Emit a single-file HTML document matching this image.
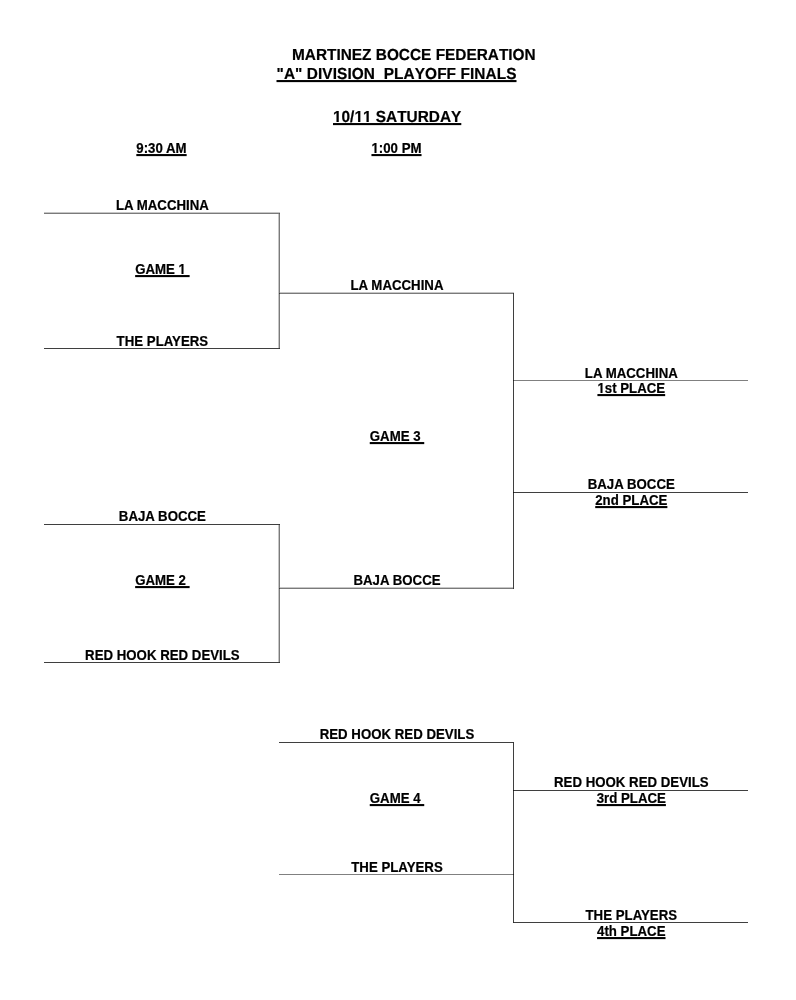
<!DOCTYPE html>
<html><head><meta charset="utf-8"><title>Martinez Bocce Federation - A Division Playoff Finals</title>
<style>
html,body{margin:0;padding:0;background:#fff;}
body{width:796px;height:1000px;position:relative;overflow:hidden;font-family:"Liberation Sans",sans-serif;font-weight:bold;color:#000;}
#pg{position:absolute;left:0;top:0;width:796px;height:1000px;will-change:transform;}
.t{position:absolute;white-space:pre;line-height:20px;-webkit-text-stroke:0.2px #000;transform:scaleY(1.04);transform-origin:0 14px;}
.c{width:300px;text-align:center;}
.s{font-size:13.25px;}
.b{font-size:15.4px;font-kerning:none;text-rendering:geometricPrecision;}
.u{text-decoration:underline;text-decoration-thickness:2px;text-underline-offset:1px;}
.l{position:absolute;}

</style></head><body>
<div id="pg">

<div class="t b" style="left:292px;top:46px"><span>MARTINEZ BOCCE FEDERATION</span></div>
<div class="t b" style="left:276.5px;top:65px;letter-spacing:0.08px"><span class="u">"A" DIVISION&nbsp; PLAYOFF FINALS</span></div>
<div class="t b" style="left:333px;top:108px"><span class="u">10/11 SATURDAY</span></div>
<div class="t c s" style="left:11.5px;top:139px"><span class="u">9:30 AM</span></div>
<div class="t c s" style="left:246.5px;top:139px"><span class="u">1:00 PM</span></div>
<div class="t c s" style="left:12.4px;top:196px"><span>LA MACCHINA</span></div>
<div class="t c s" style="left:12.4px;top:260px"><span class="u">GAME 1&nbsp;</span></div>
<div class="t c s" style="left:12.4px;top:332px"><span>THE PLAYERS</span></div>
<div class="t c s" style="left:12.4px;top:507px"><span>BAJA BOCCE</span></div>
<div class="t c s" style="left:12.4px;top:571px"><span class="u">GAME 2&nbsp;</span></div>
<div class="t c s" style="left:12.4px;top:646px"><span>RED HOOK RED DEVILS</span></div>
<div class="t c s" style="left:247.0px;top:276px"><span>LA MACCHINA</span></div>
<div class="t c s" style="left:247.0px;top:427px"><span class="u">GAME 3&nbsp;</span></div>
<div class="t c s" style="left:247.0px;top:571px"><span>BAJA BOCCE</span></div>
<div class="t c s" style="left:247.0px;top:725px"><span>RED HOOK RED DEVILS</span></div>
<div class="t c s" style="left:247.0px;top:789px"><span class="u">GAME 4&nbsp;</span></div>
<div class="t c s" style="left:247.0px;top:858px"><span>THE PLAYERS</span></div>
<div class="t c s" style="left:481.3px;top:364px"><span>LA MACCHINA</span></div>
<div class="t c s" style="left:481.3px;top:379px"><span class="u">1st PLACE</span></div>
<div class="t c s" style="left:481.3px;top:475px"><span>BAJA BOCCE</span></div>
<div class="t c s" style="left:481.3px;top:491px"><span class="u">2nd PLACE</span></div>
<div class="t c s" style="left:481.3px;top:773px"><span>RED HOOK RED DEVILS</span></div>
<div class="t c s" style="left:481.3px;top:789px"><span class="u">3rd PLACE</span></div>
<div class="t c s" style="left:481.3px;top:906px"><span>THE PLAYERS</span></div>
<div class="t c s" style="left:481.3px;top:922px"><span class="u">4th PLACE</span></div>
<div class="l" style="left:44px;top:212px;width:236px;height:1px;background:#c6c6c6"></div>
<div class="l" style="left:279px;top:292px;width:235px;height:1px;background:#c6c6c6"></div>
<div class="l" style="left:279px;top:587px;width:235px;height:1px;background:#c6c6c6"></div>
<div class="l" style="left:278px;top:213px;width:1px;height:136px;background:#c6c6c6"></div>
<div class="l" style="left:278px;top:524px;width:1px;height:139px;background:#c6c6c6"></div>
<div class="l" style="left:44px;top:213px;width:236px;height:1px;background:#7a7a7a"></div>
<div class="l" style="left:44px;top:348px;width:236px;height:1px;background:#3f3f3f"></div>
<div class="l" style="left:44px;top:524px;width:236px;height:1px;background:#3f3f3f"></div>
<div class="l" style="left:44px;top:662px;width:236px;height:1px;background:#3f3f3f"></div>
<div class="l" style="left:279px;top:293px;width:235px;height:1px;background:#7a7a7a"></div>
<div class="l" style="left:279px;top:588px;width:235px;height:1px;background:#7a7a7a"></div>
<div class="l" style="left:279px;top:742px;width:235px;height:1px;background:#3f3f3f"></div>
<div class="l" style="left:279px;top:874px;width:235px;height:1px;background:#808080"></div>
<div class="l" style="left:513px;top:380px;width:235px;height:1px;background:#808080"></div>
<div class="l" style="left:513px;top:492px;width:235px;height:1px;background:#3f3f3f"></div>
<div class="l" style="left:513px;top:790px;width:235px;height:1px;background:#3f3f3f"></div>
<div class="l" style="left:513px;top:922px;width:235px;height:1px;background:#3f3f3f"></div>
<div class="l" style="left:279px;top:213px;width:1px;height:136px;background:#7a7a7a"></div>
<div class="l" style="left:279px;top:524px;width:1px;height:139px;background:#7a7a7a"></div>
<div class="l" style="left:513px;top:293px;width:1px;height:296px;background:#3f3f3f"></div>
<div class="l" style="left:513px;top:742px;width:1px;height:181px;background:#3f3f3f"></div>
<div class="l" style="left:279px;top:213px;width:1px;height:1px;background:#5a5a5a"></div>
<div class="l" style="left:279px;top:293px;width:1px;height:1px;background:#3a3a3a"></div>
<div class="l" style="left:279px;top:348px;width:1px;height:1px;background:#333333"></div>
<div class="l" style="left:279px;top:524px;width:1px;height:1px;background:#333333"></div>
<div class="l" style="left:279px;top:588px;width:1px;height:1px;background:#3a3a3a"></div>
<div class="l" style="left:279px;top:662px;width:1px;height:1px;background:#333333"></div>
<div class="l" style="left:513px;top:293px;width:1px;height:1px;background:#333333"></div>
<div class="l" style="left:513px;top:380px;width:1px;height:1px;background:#202020"></div>
<div class="l" style="left:513px;top:492px;width:1px;height:1px;background:#161616"></div>
<div class="l" style="left:513px;top:588px;width:1px;height:1px;background:#333333"></div>
<div class="l" style="left:513px;top:742px;width:1px;height:1px;background:#333333"></div>
<div class="l" style="left:513px;top:790px;width:1px;height:1px;background:#161616"></div>
<div class="l" style="left:513px;top:874px;width:1px;height:1px;background:#202020"></div>
<div class="l" style="left:513px;top:922px;width:1px;height:1px;background:#2a2a2a"></div>
<!--p1-->
<i style="position:absolute;left:333px;top:120px;width:1px;height:1px;background:#ffffff"></i>
<i style="position:absolute;left:334px;top:120px;width:1px;height:1px;background:#ffffff"></i>
<i style="position:absolute;left:335px;top:120px;width:1px;height:1px;background:#ffffff"></i>
<i style="position:absolute;left:336px;top:120px;width:1px;height:1px;background:#7a7a7a"></i>
<i style="position:absolute;left:338px;top:120px;width:1px;height:1px;background:#3f3f3f"></i>
<i style="position:absolute;left:339px;top:120px;width:1px;height:1px;background:#ffffff"></i>
<i style="position:absolute;left:340px;top:120px;width:1px;height:1px;background:#ffffff"></i>
<i style="position:absolute;left:341px;top:120px;width:1px;height:1px;background:#ffffff"></i>
<i style="position:absolute;left:333px;top:121px;width:1px;height:1px;background:#ffffff"></i>
<i style="position:absolute;left:334px;top:121px;width:1px;height:1px;background:#ffffff"></i>
<i style="position:absolute;left:335px;top:121px;width:1px;height:1px;background:#ffffff"></i>
<i style="position:absolute;left:336px;top:121px;width:1px;height:1px;background:#7a7a7a"></i>
<i style="position:absolute;left:338px;top:121px;width:1px;height:1px;background:#3f3f3f"></i>
<i style="position:absolute;left:339px;top:121px;width:1px;height:1px;background:#ffffff"></i>
<i style="position:absolute;left:340px;top:121px;width:1px;height:1px;background:#ffffff"></i>
<i style="position:absolute;left:341px;top:121px;width:1px;height:1px;background:#ffffff"></i>
<i style="position:absolute;left:355px;top:120px;width:1px;height:1px;background:#ffffff"></i>
<i style="position:absolute;left:356px;top:120px;width:1px;height:1px;background:#ffffff"></i>
<i style="position:absolute;left:357px;top:120px;width:1px;height:1px;background:#fcfcfc"></i>
<i style="position:absolute;left:358px;top:120px;width:1px;height:1px;background:#161616"></i>
<i style="position:absolute;left:360px;top:120px;width:1px;height:1px;background:#a1a1a1"></i>
<i style="position:absolute;left:361px;top:120px;width:1px;height:1px;background:#ffffff"></i>
<i style="position:absolute;left:362px;top:120px;width:1px;height:1px;background:#ffffff"></i>
<i style="position:absolute;left:355px;top:121px;width:1px;height:1px;background:#ffffff"></i>
<i style="position:absolute;left:356px;top:121px;width:1px;height:1px;background:#ffffff"></i>
<i style="position:absolute;left:357px;top:121px;width:1px;height:1px;background:#fcfcfc"></i>
<i style="position:absolute;left:358px;top:121px;width:1px;height:1px;background:#161616"></i>
<i style="position:absolute;left:360px;top:121px;width:1px;height:1px;background:#a1a1a1"></i>
<i style="position:absolute;left:361px;top:121px;width:1px;height:1px;background:#ffffff"></i>
<i style="position:absolute;left:362px;top:121px;width:1px;height:1px;background:#ffffff"></i>
<i style="position:absolute;left:363px;top:120px;width:1px;height:1px;background:#ffffff"></i>
<i style="position:absolute;left:364px;top:120px;width:1px;height:1px;background:#ffffff"></i>
<i style="position:absolute;left:365px;top:120px;width:1px;height:1px;background:#ffffff"></i>
<i style="position:absolute;left:366px;top:120px;width:1px;height:1px;background:#7a7a7a"></i>
<i style="position:absolute;left:368px;top:120px;width:1px;height:1px;background:#3f3f3f"></i>
<i style="position:absolute;left:369px;top:120px;width:1px;height:1px;background:#ffffff"></i>
<i style="position:absolute;left:370px;top:120px;width:1px;height:1px;background:#ffffff"></i>
<i style="position:absolute;left:371px;top:120px;width:1px;height:1px;background:#ffffff"></i>
<i style="position:absolute;left:363px;top:121px;width:1px;height:1px;background:#ffffff"></i>
<i style="position:absolute;left:364px;top:121px;width:1px;height:1px;background:#ffffff"></i>
<i style="position:absolute;left:365px;top:121px;width:1px;height:1px;background:#ffffff"></i>
<i style="position:absolute;left:366px;top:121px;width:1px;height:1px;background:#7a7a7a"></i>
<i style="position:absolute;left:368px;top:121px;width:1px;height:1px;background:#3f3f3f"></i>
<i style="position:absolute;left:369px;top:121px;width:1px;height:1px;background:#ffffff"></i>
<i style="position:absolute;left:370px;top:121px;width:1px;height:1px;background:#ffffff"></i>
<i style="position:absolute;left:371px;top:121px;width:1px;height:1px;background:#ffffff"></i>
<i style="position:absolute;left:372px;top:151px;width:1px;height:1px;background:#ffffff"></i>
<i style="position:absolute;left:373px;top:151px;width:1px;height:1px;background:#ffffff"></i>
<i style="position:absolute;left:374px;top:151px;width:1px;height:1px;background:#7b7b7b"></i>
<i style="position:absolute;left:376px;top:151px;width:1px;height:1px;background:#7a7a7a"></i>
<i style="position:absolute;left:377px;top:151px;width:1px;height:1px;background:#ffffff"></i>
<i style="position:absolute;left:378px;top:151px;width:1px;height:1px;background:#ffffff"></i>
<i style="position:absolute;left:372px;top:152px;width:1px;height:1px;background:#ffffff"></i>
<i style="position:absolute;left:373px;top:152px;width:1px;height:1px;background:#ffffff"></i>
<i style="position:absolute;left:374px;top:152px;width:1px;height:1px;background:#7b7b7b"></i>
<i style="position:absolute;left:376px;top:152px;width:1px;height:1px;background:#7a7a7a"></i>
<i style="position:absolute;left:377px;top:152px;width:1px;height:1px;background:#ffffff"></i>
<i style="position:absolute;left:378px;top:152px;width:1px;height:1px;background:#ffffff"></i>
<i style="position:absolute;left:179px;top:272px;width:1px;height:1px;background:#ffffff"></i>
<i style="position:absolute;left:180px;top:272px;width:1px;height:1px;background:#ffffff"></i>
<i style="position:absolute;left:181px;top:272px;width:1px;height:1px;background:#7b7b7b"></i>
<i style="position:absolute;left:183px;top:272px;width:1px;height:1px;background:#7a7a7a"></i>
<i style="position:absolute;left:184px;top:272px;width:1px;height:1px;background:#ffffff"></i>
<i style="position:absolute;left:185px;top:272px;width:1px;height:1px;background:#ffffff"></i>
<i style="position:absolute;left:179px;top:273px;width:1px;height:1px;background:#ffffff"></i>
<i style="position:absolute;left:180px;top:273px;width:1px;height:1px;background:#ffffff"></i>
<i style="position:absolute;left:181px;top:273px;width:1px;height:1px;background:#7b7b7b"></i>
<i style="position:absolute;left:183px;top:273px;width:1px;height:1px;background:#7a7a7a"></i>
<i style="position:absolute;left:184px;top:273px;width:1px;height:1px;background:#ffffff"></i>
<i style="position:absolute;left:185px;top:273px;width:1px;height:1px;background:#ffffff"></i>
<i style="position:absolute;left:598px;top:391px;width:1px;height:1px;background:#ffffff"></i>
<i style="position:absolute;left:599px;top:391px;width:1px;height:1px;background:#ffffff"></i>
<i style="position:absolute;left:600px;top:391px;width:1px;height:1px;background:#7b7b7b"></i>
<i style="position:absolute;left:602px;top:391px;width:1px;height:1px;background:#7a7a7a"></i>
<i style="position:absolute;left:603px;top:391px;width:1px;height:1px;background:#ffffff"></i>
<i style="position:absolute;left:604px;top:391px;width:1px;height:1px;background:#ffffff"></i>
<i style="position:absolute;left:598px;top:392px;width:1px;height:1px;background:#ffffff"></i>
<i style="position:absolute;left:599px;top:392px;width:1px;height:1px;background:#ffffff"></i>
<i style="position:absolute;left:600px;top:392px;width:1px;height:1px;background:#7b7b7b"></i>
<i style="position:absolute;left:602px;top:392px;width:1px;height:1px;background:#7a7a7a"></i>
<i style="position:absolute;left:603px;top:392px;width:1px;height:1px;background:#ffffff"></i>
<i style="position:absolute;left:604px;top:392px;width:1px;height:1px;background:#ffffff"></i>
<!--/p1-->
</div></body></html>
